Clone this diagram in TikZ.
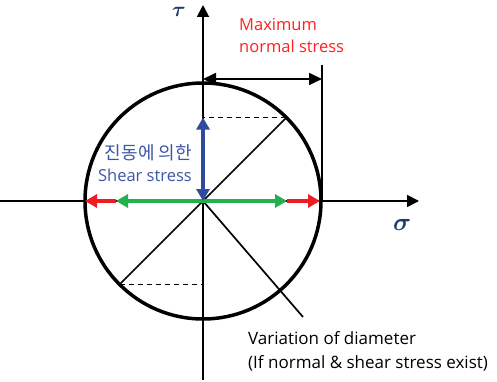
\documentclass[tikz,border=0pt]{standalone}
\usepackage{fontspec}
\setmainfont{Open Sans}
\newfontfamily\kor{Noto Sans CJK KR}
\usetikzlibrary{arrows.meta,calc}
\definecolor{myred}{HTML}{EE1D23}
\definecolor{mygreen}{HTML}{22B14C}
\definecolor{myblue}{HTML}{2F4B9E}
\definecolor{txtblue}{HTML}{3D55A6}
\definecolor{txtred}{HTML}{FF2020}
\definecolor{greek}{HTML}{1F3A70}
\tikzset{
  axis/.style={line width=1.8pt,-{Triangle[length=12pt,width=12pt]}},
  thinline/.style={line width=1.7pt},
  dim/.style={line width=1.7pt,{Triangle[length=13pt,width=12pt]}-{Triangle[length=13pt,width=12pt]}},
  dashline/.style={line width=1.7pt,dash pattern=on 5pt off 4pt},
  colarrow/.style={line width=3.8pt,-{Triangle[length=12pt,width=13pt]}},
  colarrows/.style={line width=3.8pt,{Triangle[length=12pt,width=13pt]}-{Triangle[length=12pt,width=13pt]}},
  lbl/.style={inner sep=0pt,align=left,font=\fontsize{16.5}{22}\selectfont},
}
\begin{document}
\begin{tikzpicture}[x=1pt,y=-1pt]
\useasboundingbox[fill=white] (0,0) rectangle (497,382);
% key points
\coordinate (O) at (203,201);
\coordinate (xl) at (0,201);
\coordinate (xr) at (419,201);
\coordinate (yt) at (203,5);
\coordinate (yb) at (203,380);
\coordinate (P) at ($(O)+(45:118pt)$);
\coordinate (Q) at ($(O)+(225:118pt)$);
\coordinate (Pv) at (O |- P);
\coordinate (Qv) at (O |- Q);
\coordinate (E) at (303,317);
\coordinate (gl) at (116,201);
\coordinate (gr) at (287,201);
\coordinate (rl) at (85,201);
\coordinate (rr) at (320,201);
\coordinate (dt) at (322,65);
\coordinate (db) at (322,201);
\coordinate (da) at (203,79);
\coordinate (dc) at (322,79);
% axes
\draw[axis] (xl) -- (xr);
\draw[axis] (yb) -- (yt);
% diagonals
\draw[thinline] (Q) -- (P);
\draw[thinline] (O) -- (E);
\draw[dashline] (P) -- (Pv);
\draw[dashline] (Q) -- (Qv);
% circle
\draw[line width=3.5pt] (O) circle[radius=118pt];
% dimension
\draw[thinline] (dt) -- (db);
\draw[dim] (da) -- (dc);
% coloured arrows
\draw[colarrow,myred] (gl) -- (rl);
\draw[colarrow,myred] (gr) -- (rr);
\draw[colarrows,mygreen] (gl) -- (gr);
\draw[colarrows,myblue] (O) -- (Pv);
% labels
\node[inner sep=0pt,text=greek,font=\fontsize{21}{21}\selectfont\boldmath] (tau) at (179,12) {$\tau$};
\node[inner sep=0pt,text=greek,font=\fontsize{25}{25}\selectfont\boldmath] (sigma) at (402,225) {$\sigma$};
\node[lbl,text=txtred,anchor=west] (maxlbl) at (239,36) {Maximum\\normal stress};
\node[lbl,text=txtblue,align=right,anchor=east] (shear) at (192,163) {{\kor\fontsize{18}{22}\selectfont 진동에 의한}\\Shear stress};
\node[lbl,anchor=west,font=\fontsize{17}{24}\selectfont] (varlbl) at (248,351) {Variation of diameter\\(If normal \& shear stress exist)};
\end{tikzpicture}
\end{document}
